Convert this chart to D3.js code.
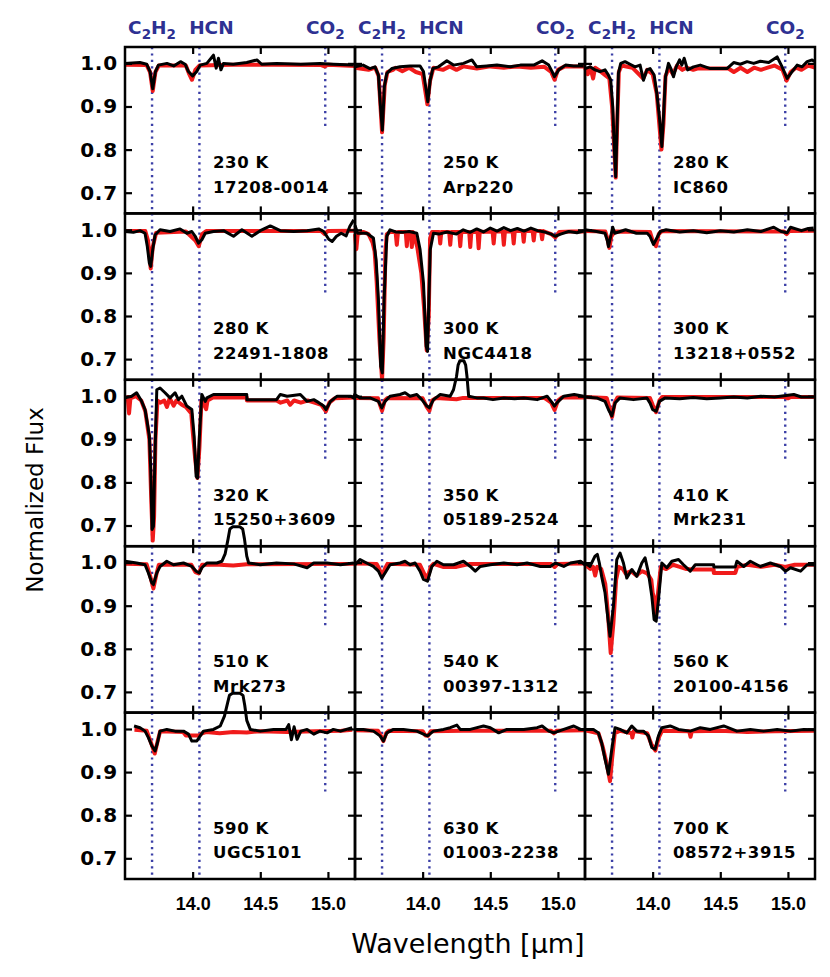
<!DOCTYPE html>
<html>
<head>
<meta charset="utf-8">
<script src="https://cdn.jsdelivr.net/npm/d3@7"></script>
<style>
body { margin: 0; background: #fff; }
</style>
</head>
<body>
<svg></svg>
<script>
// panel labels, row by row
const galaxies = ["17208-0014", "Arp220", "IC860",
                  "22491-1808", "NGC4418", "13218+0552",
                  "15250+3609", "05189-2524", "Mrk231",
                  "Mrk273", "00397-1312", "20100-4156",
                  "UGC5101", "01003-2238", "08572+3915"];
const temps = ["230 K", "250 K", "280 K",
               "280 K", "300 K", "300 K",
               "320 K", "350 K", "410 K",
               "510 K", "540 K", "560 K",
               "590 K", "630 K", "700 K"];
const xTicks = [14.0, 14.5, 15.0];
const yTicks = [0.7, 0.8, 0.9, 1.0];
const bandNames = ["C2H2", "HCN", "CO2"];
const bandWaves = [13.70, 14.05, 14.98];
const co2Floor = 0.85;

// observed (black) and model (red) spectra, [wavelength um, normalized flux]
const obs_17208 = [[13.50,1.000],[13.61,1.002],[13.66,0.998],[13.685,0.981],[13.705,0.941],[13.725,0.981],[13.747,0.996],[13.81,1.000],[13.86,0.994],[13.91,1.004],[13.944,0.998],[13.969,0.981],[14.0,0.971],[14.03,0.981],[14.056,0.996],[14.105,1.0],[14.154,1.019],[14.174,0.989],[14.191,1.012],[14.209,0.985],[14.228,1.0],[14.30,0.998],[14.40,1.002],[14.475,1.008],[14.51,0.998],[14.62,1.0],[14.80,0.998],[14.94,1.0],[15.04,0.998],[15.19,0.996]];
const mod_17208 = [[13.50,0.997],[13.66,0.996],[13.685,0.98],[13.705,0.936],[13.725,0.98],[13.75,0.995],[13.95,0.995],[13.975,0.975],[13.995,0.962],[14.02,0.985],[14.05,0.995],[14.3,0.997],[14.6,0.997],[14.95,0.996],[14.975,0.993],[15.0,0.997],[15.2,0.994]];

const obs_arp220 = [[13.50,0.992],[13.56,0.996],[13.61,0.988],[13.648,0.992],[13.673,0.973],[13.69,0.892],[13.702,0.845],[13.717,0.946],[13.735,0.977],[13.772,0.988],[13.833,0.992],[13.907,0.994],[13.981,0.994],[14.006,0.981],[14.026,0.938],[14.038,0.911],[14.056,0.961],[14.075,0.988],[14.117,0.992],[14.179,1.006],[14.228,0.996],[14.302,1.0],[14.364,1.008],[14.40,0.992],[14.475,0.994],[14.549,0.996],[14.648,0.992],[14.722,0.996],[14.821,0.996],[14.883,1.006],[14.932,0.996],[14.957,0.981],[14.974,0.969],[15.006,0.985],[15.056,0.996],[15.117,0.994],[15.19,0.994]];
const mod_arp220 = [[13.5,0.99],[13.6,0.985],[13.65,0.99],[13.675,0.97],[13.70,0.84],[13.72,0.95],[13.74,0.98],[13.78,0.985],[13.8,0.99],[13.85,0.982],[13.9,0.99],[13.95,0.98],[14.0,0.975],[14.035,0.905],[14.055,0.96],[14.08,0.99],[14.15,0.985],[14.2,0.993],[14.25,0.985],[14.3,0.993],[14.4,0.988],[14.5,0.993],[14.6,0.99],[14.7,0.993],[14.8,0.99],[14.9,0.992],[14.95,0.98],[14.975,0.962],[15.0,0.985],[15.05,0.993],[15.2,0.993]];

const obs_ic860 = [[13.5,0.988],[13.537,0.992],[13.574,0.985],[13.611,0.981],[13.648,0.985],[13.673,0.973],[13.69,0.961],[13.705,0.899],[13.717,0.799],[13.727,0.737],[13.737,0.853],[13.747,0.977],[13.764,1.0],[13.796,1.004],[13.833,0.998],[13.87,0.992],[13.907,0.996],[13.932,0.961],[13.957,0.985],[13.981,0.988],[14.011,0.973],[14.031,0.93],[14.05,0.876],[14.068,0.807],[14.08,0.876],[14.095,0.969],[14.117,1.0],[14.135,0.988],[14.154,0.969],[14.174,0.992],[14.199,1.008],[14.216,0.996],[14.233,1.012],[14.258,0.985],[14.302,0.992],[14.352,0.996],[14.426,0.988],[14.549,0.988],[14.599,1.002],[14.648,0.998],[14.698,1.004],[14.747,1.0],[14.796,1.005],[14.858,1.002],[14.92,1.015],[14.957,0.992],[14.994,0.965],[15.031,0.981],[15.068,0.996],[15.105,0.992],[15.142,1.004],[15.179,1.008],[15.196,1.004]];
const mod_ic860 = [[13.5,0.99],[13.52,0.975],[13.54,0.99],[13.56,0.965],[13.575,0.99],[13.6,0.985],[13.64,0.975],[13.68,0.965],[13.70,0.9],[13.72,0.78],[13.727,0.735],[13.737,0.85],[13.75,0.98],[13.77,0.995],[13.85,0.99],[13.93,0.965],[13.96,0.985],[14.0,0.975],[14.03,0.93],[14.065,0.8],[14.08,0.86],[14.095,0.97],[14.12,0.99],[14.15,0.975],[14.18,0.995],[14.22,0.985],[14.25,0.99],[14.3,0.985],[14.33,0.988],[14.56,0.988],[14.6,0.98],[14.65,0.99],[14.7,0.98],[14.75,0.99],[14.8,0.985],[14.85,0.99],[14.9,0.995],[14.96,0.985],[14.99,0.96],[15.02,0.98],[15.06,0.99],[15.1,0.985],[15.15,0.995],[15.2,0.99]];

const obs_22491 = [[13.5,0.996],[13.562,0.994],[13.611,0.998],[13.648,0.992],[13.665,0.961],[13.68,0.923],[13.69,0.915],[13.705,0.954],[13.722,0.988],[13.759,1.0],[13.833,0.996],[13.907,1.002],[13.957,0.992],[13.994,0.996],[14.019,0.985],[14.043,0.969],[14.068,0.977],[14.093,0.992],[14.154,0.996],[14.228,0.998],[14.302,0.985],[14.364,1.0],[14.438,0.985],[14.5,0.998],[14.574,1.009],[14.648,0.998],[14.747,0.996],[14.846,0.998],[14.932,1.002],[14.969,0.996],[15.006,0.978],[15.031,0.973],[15.063,0.985],[15.098,0.992],[15.135,0.986],[15.162,1.008],[15.191,1.023]];
const mod_22491 = [[13.5,0.997],[13.65,0.997],[13.67,0.975],[13.69,0.91],[13.705,0.96],[13.73,0.993],[13.95,0.996],[14.02,0.975],[14.045,0.962],[14.07,0.99],[14.1,0.997],[14.95,0.997],[14.975,0.99],[15.0,0.997],[15.2,0.998]];

const obs_ngc4418 = [[13.50,1.010],[13.52,0.992],[13.587,0.992],[13.636,0.981],[13.656,0.93],[13.673,0.838],[13.69,0.683],[13.702,0.668],[13.715,0.838],[13.735,0.985],[13.759,1.0],[13.80,0.995],[13.85,0.994],[13.9,0.996],[13.957,0.992],[13.981,0.954],[14.006,0.877],[14.026,0.73],[14.036,0.718],[14.056,0.954],[14.08,0.992],[14.12,0.99],[14.18,0.995],[14.25,0.99],[14.3,1.0],[14.35,0.994],[14.4,1.002],[14.45,0.995],[14.5,1.004],[14.55,0.997],[14.6,1.005],[14.65,0.998],[14.7,1.003],[14.75,0.997],[14.8,1.004],[14.85,0.998],[14.9,0.995],[14.95,0.99],[14.98,0.985],[15.02,0.99],[15.08,0.996],[15.14,0.993],[15.19,0.997]];
const mod_ngc4418 = [[13.5,0.99],[13.51,0.955],[13.52,0.99],[13.56,0.995],[13.6,0.99],[13.63,0.97],[13.645,0.95],[13.66,0.88],[13.68,0.75],[13.70,0.652],[13.712,0.75],[13.725,0.95],[13.735,0.99],[13.76,0.995],[13.80,0.995],[13.809,0.965],[13.818,0.995],[13.875,0.995],[13.883,0.962],[13.891,0.995],[13.912,0.995],[13.92,0.96],[13.928,0.995],[13.96,0.96],[13.99,0.9],[14.01,0.82],[14.03,0.72],[14.045,0.8],[14.055,0.98],[14.07,0.995],[14.122,0.995],[14.13,0.968],[14.138,0.995],[14.196,0.995],[14.204,0.965],[14.212,0.995],[14.27,0.995],[14.278,0.962],[14.286,0.995],[14.344,0.995],[14.352,0.96],[14.36,0.995],[14.406,0.995],[14.414,0.957],[14.422,0.995],[14.517,0.996],[14.525,0.968],[14.533,0.996],[14.592,0.996],[14.6,0.965],[14.608,0.996],[14.665,0.996],[14.673,0.968],[14.681,0.997],[14.739,0.997],[14.747,0.972],[14.755,0.997],[14.813,0.997],[14.821,0.975],[14.829,0.997],[14.875,0.997],[14.883,0.978],[14.891,0.997],[14.95,0.99],[14.98,0.982],[15.01,0.995],[15.1,0.996],[15.2,0.996]];

const obs_13218 = [[13.5,1.0],[13.586,0.996],[13.648,0.992],[13.665,0.975],[13.673,0.961],[13.69,0.985],[13.705,1.006],[13.72,0.992],[13.80,1.0],[13.88,0.992],[13.96,0.992],[13.98,0.985],[14.006,0.966],[14.031,0.981],[14.056,0.996],[14.1,1.0],[14.2,0.995],[14.3,0.998],[14.4,0.993],[14.5,0.998],[14.6,0.995],[14.7,1.0],[14.8,0.996],[14.895,1.006],[14.95,0.996],[14.994,0.993],[15.019,1.006],[15.1,0.998],[15.15,1.003],[15.19,1.004]];
const mod_13218 = [[13.5,0.997],[13.65,0.996],[13.665,0.98],[13.68,0.958],[13.695,0.985],[13.72,0.996],[13.98,0.995],[14.0,0.975],[14.025,0.962],[14.045,0.99],[14.07,0.997],[14.97,0.996],[14.99,0.99],[15.01,0.997],[15.2,0.998]];

const obs_15250 = [[13.50,0.996],[13.549,1.0],[13.586,1.008],[13.623,0.988],[13.648,0.969],[13.665,0.938],[13.68,0.907],[13.69,0.83],[13.70,0.691],[13.71,0.698],[13.722,0.869],[13.735,1.015],[13.759,1.019],[13.796,1.008],[13.833,0.996],[13.87,1.008],[13.895,0.992],[13.92,1.0],[13.957,0.977],[13.994,0.969],[14.011,0.907],[14.026,0.814],[14.036,0.81],[14.05,0.907],[14.068,1.004],[14.093,0.988],[14.105,0.996],[14.154,1.004],[14.2,1.004],[14.40,1.004],[14.401,0.992],[14.62,0.992],[14.648,1.004],[14.698,1.0],[14.796,1.004],[14.846,0.988],[14.895,0.992],[14.932,0.985],[14.969,0.977],[14.986,0.969],[15.019,0.988],[15.068,1.0],[15.167,1.0],[15.19,0.996],[15.2,1.006]];
const mod_15250 = [[13.5,0.996],[13.52,0.998],[13.53,0.96],[13.54,0.995],[13.58,1.0],[13.62,0.99],[13.65,0.965],[13.68,0.9],[13.695,0.75],[13.705,0.665],[13.715,0.72],[13.725,0.9],[13.74,0.99],[13.76,0.985],[13.79,0.99],[13.81,0.975],[13.83,0.995],[13.86,0.978],[13.88,0.99],[13.92,0.98],[13.95,0.975],[13.99,0.96],[14.0,0.92],[14.02,0.85],[14.035,0.81],[14.05,0.88],[14.065,0.99],[14.08,0.985],[14.1,0.97],[14.11,0.99],[14.15,0.997],[14.4,0.997],[14.401,0.99],[14.62,0.99],[14.65,0.985],[14.7,0.99],[14.72,0.98],[14.75,0.99],[14.8,0.985],[14.85,0.99],[14.9,0.985],[14.95,0.98],[14.985,0.965],[15.01,0.985],[15.05,0.995],[15.2,0.997]];

const obs_05189 = [[13.50,1.003],[13.537,0.996],[13.611,0.996],[13.673,0.988],[13.698,0.973],[13.722,0.988],[13.759,1.0],[13.833,1.004],[13.87,1.008],[13.907,1.0],[13.957,1.004],[13.994,0.992],[14.031,0.977],[14.05,0.973],[14.08,0.992],[14.13,1.004],[14.204,1.0],[14.228,1.015],[14.25,1.045],[14.262,1.072],[14.275,1.082],[14.305,1.082],[14.318,1.072],[14.328,1.045],[14.34,1.0],[14.40,0.996],[14.45,0.996],[14.52,0.992],[14.60,0.996],[14.68,0.994],[14.747,0.996],[14.846,0.992],[14.92,1.0],[14.957,0.985],[14.974,0.977],[14.994,0.985],[15.043,1.0],[15.12,1.004],[15.19,1.0]];
const mod_05189 = [[13.5,0.996],[13.67,0.995],[13.685,0.98],[13.70,0.966],[13.72,0.99],[13.74,0.996],[14.0,0.995],[14.03,0.975],[14.05,0.966],[14.07,0.99],[14.1,0.996],[14.25,0.993],[14.3,0.996],[14.9,0.996],[14.95,0.985],[14.975,0.968],[15.0,0.99],[15.03,0.997],[15.2,0.997]];

const obs_mrk231 = [[13.5,0.998],[13.586,0.996],[13.648,0.988],[13.673,0.969],[13.698,0.954],[13.722,0.984],[13.759,0.996],[13.858,0.992],[13.957,0.996],[13.981,0.984],[14.0,0.969],[14.026,0.965],[14.05,0.988],[14.093,0.996],[14.2,0.994],[14.3,0.997],[14.4,0.994],[14.5,0.996],[14.6,0.998],[14.7,0.996],[14.8,1.0],[14.9,0.998],[15.0,1.002],[15.043,1.004],[15.1,0.998],[15.19,0.998]];
const mod_mrk231 = [[13.5,0.998],[13.66,0.996],[13.68,0.975],[13.70,0.952],[13.72,0.985],[13.74,0.997],[13.98,0.996],[14.0,0.98],[14.025,0.963],[14.05,0.99],[14.07,0.998],[14.98,0.998],[15.0,0.995],[15.02,0.998],[15.2,0.998]];

const obs_mrk273 = [[13.5,1.003],[13.586,0.999],[13.648,0.995],[13.673,0.976],[13.698,0.953],[13.71,0.949],[13.735,0.976],[13.759,0.991],[13.809,1.003],[13.858,0.995],[13.932,0.999],[13.994,0.991],[14.026,0.98],[14.05,0.976],[14.068,0.988],[14.105,0.999],[14.179,0.999],[14.216,1.003],[14.24,1.02],[14.262,1.055],[14.275,1.078],[14.295,1.083],[14.35,1.083],[14.37,1.078],[14.383,1.055],[14.40,1.015],[14.414,0.999],[14.5,0.995],[14.62,0.999],[14.747,0.997],[14.846,0.988],[14.895,0.999],[14.994,0.999],[15.093,0.995],[15.19,0.999]];
const mod_mrk273 = [[13.5,0.997],[13.66,0.996],[13.685,0.97],[13.71,0.94],[13.73,0.97],[13.75,0.995],[13.99,0.995],[14.02,0.978],[14.045,0.975],[14.07,0.995],[14.2,0.995],[14.3,0.993],[14.4,0.996],[15.2,0.997]];

const obs_00397 = [[13.5,0.995],[13.537,1.007],[13.586,0.999],[13.636,0.991],[13.673,0.98],[13.698,0.964],[13.722,0.976],[13.759,0.995],[13.833,0.999],[13.87,1.003],[13.907,0.995],[13.944,0.999],[13.981,0.98],[14.006,0.961],[14.036,0.957],[14.068,0.991],[14.105,1.003],[14.154,0.995],[14.228,0.995],[14.302,1.003],[14.352,0.991],[14.389,0.98],[14.426,0.991],[14.5,0.995],[14.6,0.999],[14.698,0.995],[14.772,0.999],[14.87,0.991],[14.944,0.991],[14.981,0.999],[15.043,0.991],[15.093,0.999],[15.167,1.003],[15.2,0.995]];
const mod_00397 = [[13.5,0.998],[13.66,0.997],[13.68,0.985],[13.70,0.968],[13.72,0.985],[13.74,0.997],[13.98,0.995],[14.01,0.975],[14.035,0.963],[14.06,0.99],[14.08,0.997],[14.15,0.99],[14.25,0.99],[14.35,0.997],[14.95,0.997],[14.975,0.99],[15.0,0.997],[15.2,0.998]];

const obs_20100 = [[13.5,0.999],[13.537,0.991],[13.574,1.015],[13.591,1.019],[13.606,0.999],[13.623,0.968],[13.648,0.93],[13.673,0.86],[13.685,0.829],[13.71,0.899],[13.735,1.007],[13.759,1.022],[13.784,0.999],[13.809,0.964],[13.846,0.984],[13.883,0.968],[13.92,0.999],[13.944,1.011],[13.969,0.976],[13.994,0.922],[14.011,0.868],[14.026,0.864],[14.043,0.914],[14.068,0.999],[14.105,0.988],[14.142,1.003],[14.191,1.007],[14.228,0.995],[14.278,0.98],[14.315,0.995],[14.451,0.995],[14.452,0.99],[14.611,0.99],[14.623,1.003],[14.673,0.991],[14.722,1.003],[14.796,0.991],[14.87,0.999],[14.944,0.991],[14.981,0.98],[15.019,0.988],[15.093,0.98],[15.142,0.995],[15.2,0.995]];
const mod_20100 = [[13.5,0.995],[13.54,0.985],[13.56,0.99],[13.575,0.97],[13.59,0.99],[13.62,0.985],[13.65,0.95],[13.67,0.88],[13.69,0.79],[13.71,0.86],[13.73,0.96],[13.75,0.99],[13.78,0.985],[13.8,0.975],[13.84,0.98],[13.88,0.97],[13.92,0.98],[13.96,0.975],[13.99,0.96],[14.0,0.93],[14.01,0.92],[14.025,0.875],[14.04,0.93],[14.06,0.99],[14.1,0.985],[14.15,0.995],[14.2,0.99],[14.25,0.985],[14.3,0.984],[14.451,0.984],[14.452,0.976],[14.611,0.976],[14.625,0.99],[14.7,0.995],[14.8,0.99],[14.9,0.995],[14.98,0.99],[15.05,0.995],[15.2,0.995]];

const obs_ugc5101 = [[13.567,1.007],[13.611,1.003],[13.648,0.995],[13.673,0.98],[13.698,0.961],[13.722,0.949],[13.74,0.968],[13.759,0.995],[13.809,0.999],[13.87,0.995],[13.932,0.995],[13.969,0.988],[13.994,0.972],[14.031,0.972],[14.056,0.984],[14.08,0.995],[14.154,0.999],[14.204,1.007],[14.235,1.03],[14.258,1.06],[14.272,1.078],[14.295,1.083],[14.35,1.083],[14.372,1.078],[14.385,1.055],[14.40,1.02],[14.426,0.999],[14.5,0.995],[14.598,0.999],[14.69,0.999],[14.71,1.01],[14.73,0.975],[14.75,1.005],[14.772,0.976],[14.80,0.995],[14.846,0.999],[14.895,0.988],[14.94,0.995],[14.994,0.991],[15.04,0.999],[15.093,0.995],[15.179,1.003]];
const mod_ugc5101 = [[13.57,0.998],[13.66,0.996],[13.69,0.97],[13.72,0.943],[13.74,0.97],[13.76,0.995],[13.93,0.993],[13.95,0.985],[14.05,0.985],[14.07,0.99],[14.1,0.993],[14.2,0.99],[14.3,0.993],[14.4,0.992],[14.5,0.995],[14.7,0.993],[14.9,0.995],[15.1,0.996],[15.18,0.998]];

const obs_01003 = [[13.5,0.999],[13.562,0.999],[13.636,0.995],[13.685,0.984],[13.71,0.972],[13.735,0.991],[13.784,0.999],[13.858,0.999],[13.957,0.995],[14.006,0.988],[14.036,0.984],[14.08,0.995],[14.154,0.999],[14.204,1.003],[14.253,1.009],[14.278,0.999],[14.352,0.999],[14.45,1.007],[14.5,1.003],[14.562,0.991],[14.623,0.999],[14.747,0.999],[14.846,1.003],[14.883,1.007],[14.932,0.995],[14.969,0.991],[15.043,0.999],[15.117,1.007],[15.167,0.999],[15.2,0.999]];
const mod_01003 = [[13.5,0.997],[13.67,0.996],[13.69,0.985],[13.71,0.972],[13.73,0.99],[13.75,0.996],[14.0,0.995],[14.02,0.985],[14.04,0.984],[14.06,0.995],[14.3,0.996],[14.95,0.996],[14.97,0.99],[14.99,0.996],[15.2,0.997]];

const obs_08572 = [[13.5,0.999],[13.562,0.999],[13.599,0.991],[13.623,0.968],[13.648,0.93],[13.673,0.895],[13.698,0.953],[13.722,1.003],[13.759,0.999],[13.809,0.991],[13.846,1.007],[13.883,0.995],[13.932,0.995],[13.969,0.984],[13.994,0.957],[14.018,0.953],[14.043,0.984],[14.068,1.003],[14.13,1.007],[14.191,0.999],[14.278,0.995],[14.352,1.003],[14.426,0.999],[14.525,1.007],[14.623,0.995],[14.722,0.999],[14.821,0.995],[14.92,0.999],[15.019,0.995],[15.117,0.999],[15.2,0.998]];
const mod_08572 = [[13.5,0.997],[13.6,0.99],[13.63,0.96],[13.66,0.92],[13.685,0.879],[13.70,0.93],[13.72,0.99],[13.76,0.996],[13.845,0.99],[13.85,0.98],[13.86,0.995],[13.96,0.99],[13.99,0.965],[14.02,0.95],[14.045,0.98],[14.07,0.996],[14.27,0.995],[14.28,0.982],[14.29,0.995],[14.5,0.996],[14.7,0.993],[14.9,0.995],[15.2,0.996]];

const observed = [obs_17208, obs_arp220, obs_ic860, obs_22491, obs_ngc4418, obs_13218,
                  obs_15250, obs_05189, obs_mrk231, obs_mrk273, obs_00397, obs_20100,
                  obs_ugc5101, obs_01003, obs_08572];
const models = [mod_17208, mod_arp220, mod_ic860, mod_22491, mod_ngc4418, mod_13218,
                mod_15250, mod_05189, mod_mrk231, mod_mrk273, mod_00397, mod_20100,
                mod_ugc5101, mod_01003, mod_08572];

const width = 830, height = 977;
const marginLeft = 125, marginTop = 47, pw = 230, ph = 166.4;
const ncol = 3;

const svg = d3.select("svg").attr("width", width).attr("height", height);

const x = d3.scaleLinear().domain([13.5, 15.2]).range([0, pw]);
const y = d3.scaleLinear().domain([0.652, 1.038]).range([ph, 0]);

const line = d3.line().x(d => x(d[0])).y(d => y(d[1]));

const blue = "#3b3fa6";

// labels on a top layer, above the spectra of neighbouring panels
const panelLayer = svg.append("g");
const textLayer = svg.append("g");

galaxies.forEach((name, i) => {
  const col = i % ncol, row = Math.floor(i / ncol);
  const tr = `translate(${marginLeft + col * pw}, ${marginTop + row * ph})`;
  const g = panelLayer.append("g").attr("transform", tr);
  const gt = textLayer.append("g").attr("transform", tr);

  // dotted band markers
  bandWaves.forEach((w, k) => {
    g.append("line")
      .attr("x1", x(w)).attr("x2", x(w))
      .attr("y1", 0).attr("y2", k == 2 ? y(co2Floor) : ph)
      .attr("stroke", blue)
      .attr("stroke-width", 2.4)
      .attr("stroke-dasharray", "2.2,4.2");
  });

  g.append("path").datum(models[i])
    .attr("d", line)
    .attr("fill", "none")
    .attr("stroke", "#f01b1b")
    .attr("stroke-width", 4)
    .attr("stroke-linejoin", "round");

  g.append("path").datum(observed[i])
    .attr("d", line)
    .attr("fill", "none")
    .attr("stroke", "#000")
    .attr("stroke-width", 3)
    .attr("stroke-linejoin", "round");

  // inward ticks on all four sides
  const axes = [
    [d3.axisBottom(x).tickValues(xTicks), `translate(0,${ph})`],
    [d3.axisTop(x).tickValues(xTicks), "translate(0,0)"],
    [d3.axisLeft(y).tickValues(yTicks), "translate(0,0)"],
    [d3.axisRight(y).tickValues(yTicks), `translate(${pw},0)`]
  ];
  axes.forEach(([ax, t]) => {
    const a = g.append("g").attr("transform", t)
      .call(ax.tickSize(-7).tickFormat(""));
    a.select(".domain").remove();
    a.selectAll("line").attr("stroke", "#000").attr("stroke-width", 2.2);
  });

  g.append("rect")
    .attr("width", pw).attr("height", ph)
    .attr("fill", "none")
    .attr("stroke", "#000")
    .attr("stroke-width", 2.5);

  const lab = gt.append("text")
    .attr("font-family", "DejaVu Sans, sans-serif")
    .attr("font-weight", "bold")
    .attr("font-size", 16.5)
    .attr("letter-spacing", 0.6);
  lab.append("tspan").attr("x", 88).attr("y", 121).text(temps[i]);
  lab.append("tspan").attr("x", 88).attr("y", 145.5).text(name);

  if (col == 0) {
    const a = gt.append("g")
      .call(d3.axisLeft(y).tickValues(yTicks).tickFormat(d3.format(".1f")).tickSize(0).tickPadding(7));
    a.select(".domain").remove();
    a.selectAll("text")
      .attr("font-family", "DejaVu Sans, sans-serif")
      .attr("font-weight", "bold")
      .attr("font-size", 20)
      .attr("letter-spacing", 0.8)
      .attr("fill", "#000");
  }

  if (row == Math.floor((galaxies.length - 1) / ncol)) {
    const a = gt.append("g").attr("transform", `translate(0,${ph})`)
      .call(d3.axisBottom(x).tickValues(xTicks).tickFormat(d3.format(".1f")).tickSize(0).tickPadding(18));
    a.select(".domain").remove();
    a.selectAll("text")
      .attr("font-family", "Liberation Sans, sans-serif")
      .attr("font-weight", "bold")
      .attr("font-size", 18)
      .attr("fill", "#000");
  }

  if (row == 0) {
    const subs = [["C", "2", "H", "2"], ["HCN"], ["CO", "2"]];
    bandWaves.forEach((w, k) => {
      const t = gt.append("text")
        .attr("x", x(w) + (k == 1 ? 12 : 0))
        .attr("y", -13)
        .attr("text-anchor", "middle")
        .attr("font-family", "DejaVu Sans, sans-serif")
        .attr("font-weight", "bold")
        .attr("font-size", 18.5)
        .attr("fill", "#2e3192");
      subs[k].forEach((s, j) => {
        const sp = t.append("tspan").text(s);
        if (j % 2 == 1) sp.attr("font-size", 13.5).attr("dy", 5);
        else if (j > 0) sp.attr("dy", -5);
      });
    });
  }
});

// axis titles
svg.append("text")
  .attr("transform", "translate(43, 500) rotate(-90)")
  .attr("text-anchor", "middle")
  .attr("font-family", "DejaVu Sans, sans-serif")
  .attr("font-size", 23)
  .text("Normalized Flux");

svg.append("text")
  .attr("x", 468)
  .attr("y", 953)
  .attr("text-anchor", "middle")
  .attr("font-family", "DejaVu Sans, sans-serif")
  .attr("font-size", 27)
  .text("Wavelength [\u03bcm]");
</script>
</body>
</html>
